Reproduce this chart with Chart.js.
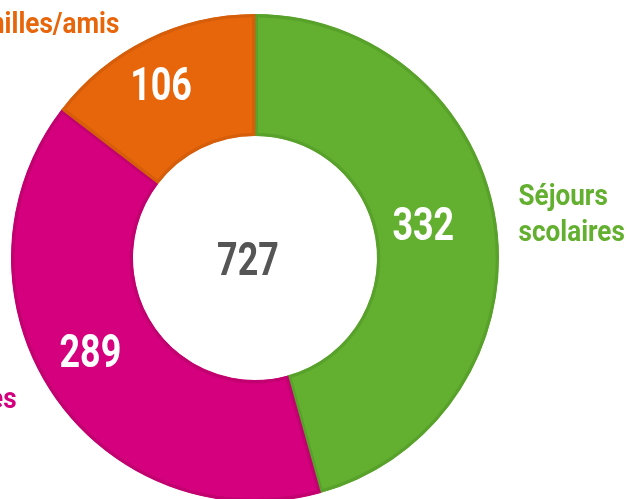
<!DOCTYPE html>
<html>
<head>
<meta charset="utf-8">
<script src="https://cdn.jsdelivr.net/npm/chart.js@4/dist/chart.umd.min.js"></script>
<style>
  html, body { margin: 0; padding: 0; background: #fff; overflow: hidden; }
  #wrap { position: absolute; left: 0; top: 0; width: 627px; height: 510px; }
</style>
</head>
<body>
<div id="wrap"><canvas id="c" width="627" height="510"></canvas></div>
<script>
const categories = [['Séjours', 'scolaires'], ['Individuelles'], ['Familles/amis']];
const values = [332, 289, 106];
const colors = ['#63b030', '#d4007e', '#e8660b'];
const borderColors = ['#58a12a', '#c2006f', '#d65d09'];
const centerColor = '#555555';

const total = values.reduce((a, b) => a + b, 0);
const FONT = 'Roboto, "Liberation Sans", sans-serif';

function drawText(ctx, text, x, y, align, size, color, sx) {
  ctx.save();
  ctx.translate(x, y);
  ctx.scale(sx, 1);
  ctx.font = 'bold ' + size + 'px ' + FONT;
  ctx.fillStyle = color;
  ctx.textAlign = align;
  ctx.textBaseline = 'middle';
  ctx.fillText(text, 0, 0);
  ctx.restore();
}

const labelPlugin = {
  id: 'labelPlugin',
  afterDatasetsDraw(chart) {
    const ctx = chart.ctx;
    const meta = chart.getDatasetMeta(0);
    meta.data.forEach((arc, i) => {
      const p = arc.getProps(['x', 'y', 'startAngle', 'endAngle', 'innerRadius', 'outerRadius'], true);
      const mid = (p.startAngle + p.endAngle) / 2;
      const rIn = (p.innerRadius + p.outerRadius) / 2;
      drawText(ctx, String(values[i]), p.x + Math.cos(mid) * rIn - 13, p.y + Math.sin(mid) * rIn - 5, 'center', 46, '#ffffff', 0.78);
      const rOut = p.outerRadius + 22;
      const ax = p.x + Math.cos(mid) * rOut;
      const ay = p.y + Math.sin(mid) * rOut;
      const right = Math.cos(mid) >= 0;
      const lines = categories[i];
      const lh = 36;
      const y0 = Math.max(25, ay - (lines.length - 1) * lh / 2 - 6);
      lines.forEach((ln, k) => {
        drawText(ctx, ln, right ? ax : ax - 18, y0 + k * lh, right ? 'left' : 'right', 30, colors[i], 0.87);
      });
    });
    const c = meta.data[0];
    drawText(ctx, String(total), c.x - 7, c.y + 5, 'center', 46, centerColor, 0.78);
  }
};

new Chart(document.getElementById('c'), {
  type: 'doughnut',
  data: {
    labels: categories.map(l => l.join(' ')),
    datasets: [{
      data: values,
      backgroundColor: colors,
      borderColor: borderColors,
      borderWidth: 3,
      borderAlign: 'inner'
    }]
  },
  options: {
    responsive: false,
    animation: false,
    cutout: '50%',
    layout: { padding: { left: 11, right: 128, top: 14, bottom: 8 } },
    plugins: { legend: { display: false }, tooltip: { enabled: false } }
  },
  plugins: [labelPlugin]
});
</script>
</body>
</html>
